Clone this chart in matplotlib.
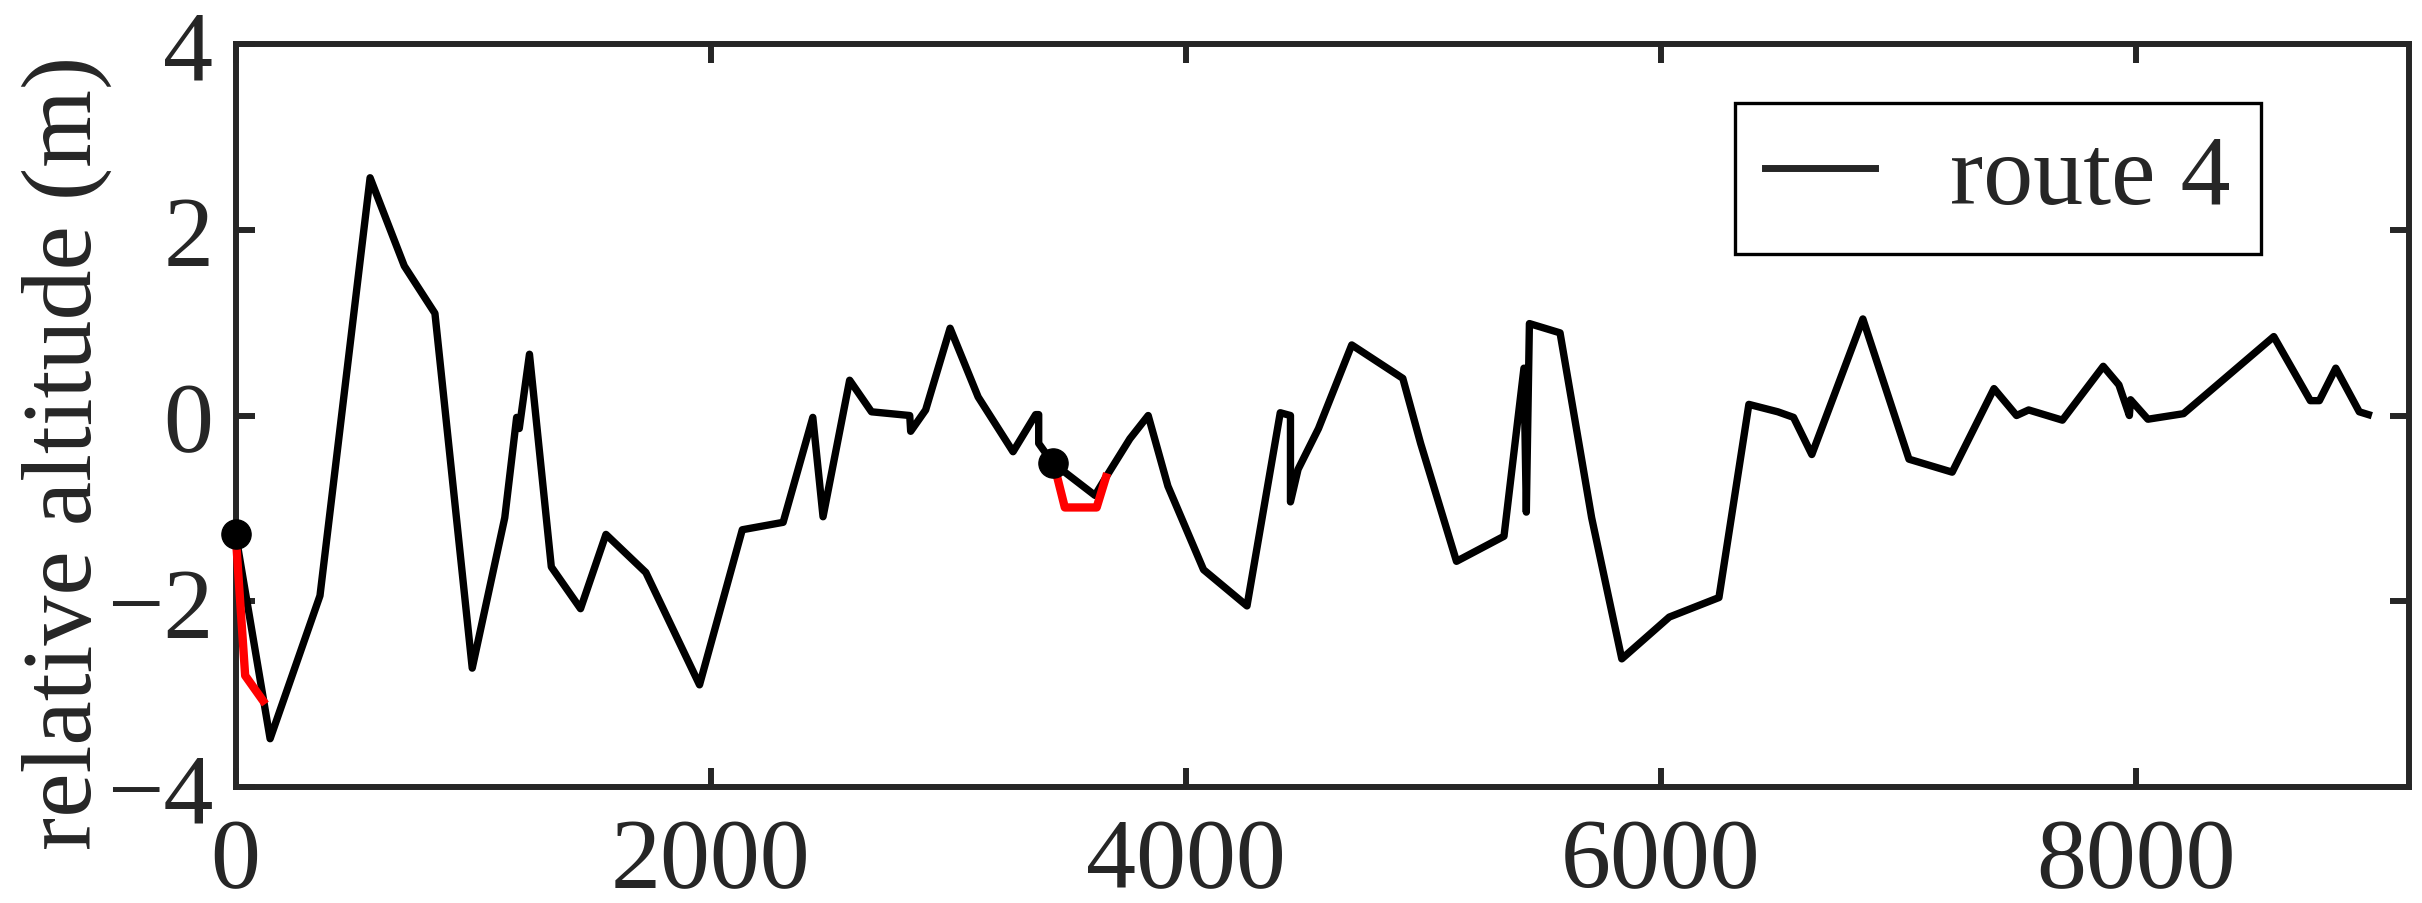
import numpy as np
import matplotlib
matplotlib.use("Agg")
import matplotlib.pyplot as plt

plt.rcParams['font.family'] = ['Liberation Serif', 'DejaVu Serif']

# route 4 profile (distance, relative altitude)
dist = [0, 145, 355, 566, 710, 839, 996, 1133, 1183, 1194, 1237, 1329, 1452,
        1559, 1727, 1953, 2133, 2305, 2430, 2473, 2585, 2677, 2838, 2842,
        2905, 3008, 3126, 3273, 3368, 3381, 3381, 3440, 3618, 3664, 3765,
        3842, 3925, 4075, 4258, 4398, 4441, 4441, 4473, 4559, 4699, 4914,
        4989, 5140, 5340, 5424, 5434, 5447, 5576, 5709, 5836, 6036, 6245,
        6371, 6493, 6559, 6636, 6851, 7045, 7227, 7403, 7498, 7549, 7691,
        7863, 7929, 7973, 7978, 8051, 8201, 8581, 8735, 8773, 8842, 8941,
        8979]
alt = [-1.28, -3.48, -1.94, 2.56, 1.61, 1.10, -2.72, -1.10, -0.02, -0.14,
       0.66, -1.63, -2.08, -1.28, -1.69, -2.90, -1.23, -1.15, -0.02, -1.09,
       0.38, 0.04, 0.0, -0.17, 0.06, 0.94, 0.20, -0.39, 0.01, 0.01, -0.30,
       -0.51, -0.86, -0.665, -0.25, 0.0, -0.76, -1.66, -2.05, 0.03, 0.0,
       -0.93, -0.58, -0.14, 0.76, 0.40, -0.30, -1.57, -1.30, 0.51, -1.04,
       0.99, 0.89, -1.10, -2.62, -2.17, -1.96, 0.12, 0.04, -0.02, -0.42,
       1.04, -0.47, -0.61, 0.29, 0.0, 0.06, -0.05, 0.53, 0.33, 0.0, 0.17,
       -0.04, 0.02, 0.85, 0.16, 0.16, 0.51, 0.04, 0.01]

# corrected segments (red)
red1_x = [0, 40, 115]
red1_y = [-1.28, -2.80, -3.07]
red2_x = [3445, 3491, 3625, 3664]
red2_y = [-0.52, -0.99, -0.99, -0.665]

# start points of the segments
pts_x = [0, 3440]
pts_y = [-1.28, -0.51]

xticks = [0, 2000, 4000, 6000, 8000]
yticks = [-4, -2, 0, 2, 4]

dark = '#262626'

fig = plt.figure(figsize=(24.22, 9.04), dpi=100)
ax = fig.add_axes([0.0973, 0.1283, 0.8973, 0.8219])

line, = ax.plot(dist, alt, color='black', lw=5.3, label='route 4', clip_on=False, zorder=2)
ax.plot(red1_x, red1_y, color='red', lw=6, clip_on=False, zorder=3)
ax.plot(red2_x, red2_y, color='red', lw=6, clip_on=False, zorder=3)
ax.plot(pts_x, pts_y, 'o', color='black', ms=21, clip_on=False, zorder=4)

ax.set_xlim(0, 9150)
ax.set_ylim(-4, 4)
ax.set_xticks(xticks)
ax.set_yticks(yticks)

for sp in ax.spines.values():
    sp.set_linewidth(4.3)
    sp.set_color(dark)
ax.tick_params(direction='in', length=14, width=4.3, color=dark, labelcolor=dark,
               labelsize=72, top=True, right=True)
ax.tick_params(axis='x', pad=22)
ax.tick_params(axis='y', pad=16)

ax.set_ylabel('relative altitude (m)', fontsize=72, color=dark)
ax.yaxis.set_label_coords(-0.057, 0.451)

leg = ax.legend(handles=[line], loc='upper left', bbox_to_anchor=(0.690, 0.921),
                borderaxespad=0, fontsize=72, fancybox=False, framealpha=1,
                edgecolor='black', borderpad=0.3, handlelength=1.1,
                handletextpad=0.75, labelcolor=dark)
leg.get_frame().set_linewidth(2.4)
leg.get_lines()[0].set_color(dark)
leg.get_lines()[0].set_linewidth(5)

fig.savefig('out.png', dpi=100)
